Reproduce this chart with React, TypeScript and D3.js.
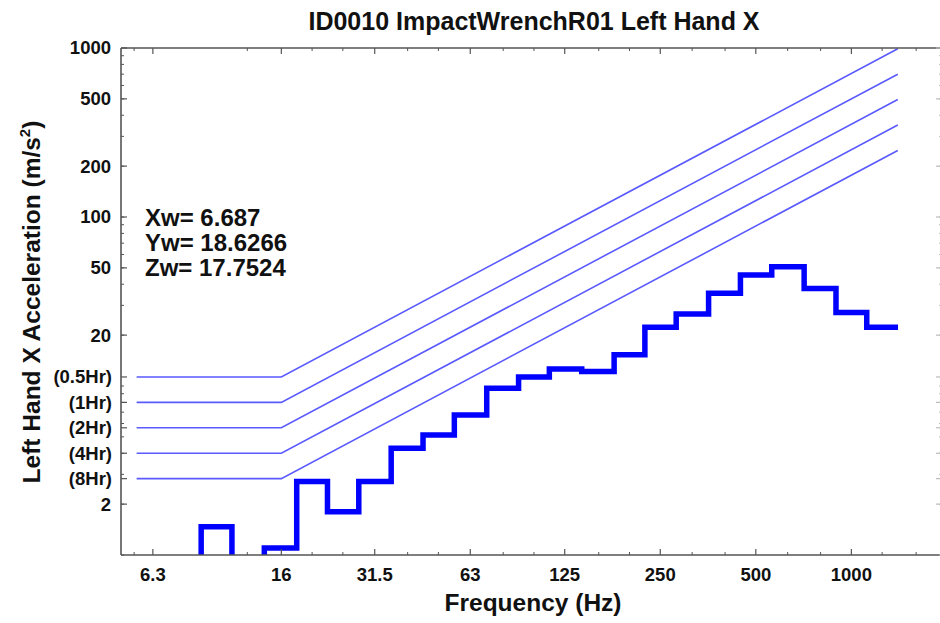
import React from "react";
import * as d3 from "d3";

const title = "ID0010 ImpactWrenchR01 Left Hand X";
const xLabel = "Frequency (Hz)";
const yLabelMain = "Left Hand X Acceleration (m/s";
const xTickValues = [6.3, 16, 31.5, 63, 125, 250, 500, 1000];
const xTickLabels = ["6.3", "16", "31.5", "63", "125", "250", "500", "1000"];
const xMinorTicks = [5.5, 12.5, 20, 25, 40, 50, 80, 100, 160, 200, 315, 400, 630, 800, 1250, 1600];
const yTickValues = [2, 20, 50, 100, 200, 500, 1000];
const yTickLabels = ["2", "20", "50", "100", "200", "500", "1000"];
const limitLabels = ["(0.5Hr)", "(1Hr)", "(2Hr)", "(4Hr)", "(8Hr)"];
const limitValues = [11.31, 8, 5.66, 4, 2.83];
const limitFreqs = [5.6, 16, 1400];
const bandCenters = [8, 10, 12.5, 16, 20, 25, 31.5, 40, 50, 63, 80, 100, 125, 160, 200, 250, 315, 400, 500, 630, 800, 1000, 1250];
const bandValues = [0.6, 1.47, 0.6, 1.1, 2.72, 1.8, 2.72, 4.28, 5.13, 6.73, 9.69, 11.3, 12.6, 12.2, 15.3, 22.3, 26.7, 35.4, 45.4, 50.8, 37.8, 27.2, 22.3];
const weightedLabels = ["Xw= 6.687", "Yw= 18.6266", "Zw= 17.7524"];

const W = 940;
const H = 623;
const left = 121;
const right = 942;
const top = 48;
const bottom = 555;

export default function App() {
  const x = d3.scaleLog().domain([5, 1930]).range([left, right]);
  const y = d3.scaleLog().domain([1, 1000]).range([bottom, top]);

  // band edges
  const edges: number[] = [];
  edges.push(bandCenters[0] * Math.pow(2, -1 / 6));
  for (let i = 0; i < bandCenters.length - 1; i++) {
    edges.push(Math.sqrt(bandCenters[i] * bandCenters[i + 1]));
  }
  edges.push(bandCenters[bandCenters.length - 1] * Math.pow(2, 1 / 6));
  const stepPts: [number, number][] = [];
  bandValues.forEach((v, i) => {
    stepPts.push([edges[i], v]);
    stepPts.push([edges[i + 1], v]);
  });
  const line = d3
    .line<[number, number]>()
    .x((d) => x(d[0]))
    .y((d) => y(d[1]));

  const limitPaths = limitValues.map((v) =>
    line([
      [limitFreqs[0], v],
      [limitFreqs[1], v],
      [limitFreqs[2], (v * limitFreqs[2]) / limitFreqs[1]],
    ])
  );

  const yMinor: number[] = [];
  for (let k = 0; k < 3; k++) {
    for (let m = 1; m < 10; m++) yMinor.push(m * Math.pow(10, k));
  }

  const axisColor = "#555";
  const font = "Liberation Sans, Arial, Helvetica, sans-serif";

  return (
    <svg
      width={W}
      height={H}
      style={{ position: "absolute", left: 0, top: 0, background: "#fff" }}
      fontFamily={font}
    >
      <defs>
        <clipPath id="plot">
          <rect x={left} y={top} width={right - left} height={bottom - top} />
        </clipPath>
      </defs>
      <rect x={0} y={0} width={W} height={H} fill="#fff" />

      {/* limit lines */}
      <g clipPath="url(#plot)">
        {limitPaths.map((p, i) => (
          <path key={i} d={p || ""} fill="none" stroke="#5a5aff" strokeWidth={1.6} />
        ))}
        <path
          d={line(stepPts) || ""}
          fill="none"
          stroke="#0000ff"
          strokeWidth={5.5}
          strokeLinejoin="miter"
        />
      </g>

      {/* axes frame */}
      <line x1={left} x2={left} y1={top} y2={bottom} stroke={axisColor} strokeWidth={1.6} />
      <line x1={left} x2={right} y1={bottom} y2={bottom} stroke={axisColor} strokeWidth={1.6} />
      <line x1={left} x2={right} y1={top} y2={top} stroke={axisColor} strokeWidth={1.6} />
      <line x1={right} x2={right} y1={top} y2={bottom} stroke={axisColor} strokeWidth={1.6} />

      {/* y ticks */}
      {yMinor.map((v, i) => (
        <g key={"ym" + i}>
          <line x1={left} x2={left + 3} y1={y(v)} y2={y(v)} stroke={axisColor} strokeWidth={1} />
          <line x1={right} x2={right - 3} y1={y(v)} y2={y(v)} stroke="#bbb" strokeWidth={1} />
        </g>
      ))}
      {yTickValues.concat(limitValues).map((v, i) => (
        <g key={"yM" + i}>
          <line x1={left} x2={left + 6} y1={y(v)} y2={y(v)} stroke={axisColor} strokeWidth={1.2} />
          <line x1={right} x2={right - 6} y1={y(v)} y2={y(v)} stroke="#bbb" strokeWidth={1.2} />
        </g>
      ))}
      {yTickValues.map((v, i) => (
        <text
          key={"yl" + i}
          x={left - 10}
          y={y(v)}
          dy="0.35em"
          textAnchor="end"
          fontSize={18.5}
          fontWeight="bold"
          fill="#111"
        >
          {yTickLabels[i]}
        </text>
      ))}
      {limitValues.map((v, i) => (
        <text
          key={"ll" + i}
          x={left - 9}
          y={y(v)}
          dy="0.35em"
          textAnchor="end"
          fontSize={18.5}
          fontWeight="bold"
          fill="#111"
        >
          {limitLabels[i]}
        </text>
      ))}

      {/* x ticks */}
      {xMinorTicks.map((v, i) => (
        <g key={"xm" + i}>
          <line x1={x(v)} x2={x(v)} y1={bottom} y2={bottom - 3} stroke={axisColor} strokeWidth={1} />
          <line x1={x(v)} x2={x(v)} y1={top} y2={top + 3} stroke={axisColor} strokeWidth={1} />
        </g>
      ))}
      {xTickValues.map((v, i) => (
        <g key={"xM" + i}>
          <line x1={x(v)} x2={x(v)} y1={bottom} y2={bottom - 6} stroke={axisColor} strokeWidth={1.2} />
          <line x1={x(v)} x2={x(v)} y1={top} y2={top + 6} stroke={axisColor} strokeWidth={1.2} />
          <text
            x={x(v)}
            y={581}
            textAnchor="middle"
            fontSize={18.5}
            fontWeight="bold"
            fill="#111"
          >
            {xTickLabels[i]}
          </text>
        </g>
      ))}

      {/* annotations */}
      {weightedLabels.map((t, i) => (
        <text key={"w" + i} x={145} y={226 + i * 25} fontSize={24} fontWeight="bold" fill="#111">
          {t}
        </text>
      ))}

      {/* titles */}
      <text x={534} y={30} textAnchor="middle" fontSize={25} fontWeight="bold" fill="#111">
        {title}
      </text>
      <text x={533} y={611} textAnchor="middle" fontSize={24.5} fontWeight="bold" fill="#111">
        {xLabel}
      </text>
      <text
        transform={`translate(40, 302) rotate(-90)`}
        textAnchor="middle"
        fontSize={24.5}
        fontWeight="bold"
        fill="#111"
      >
        {yLabelMain}
        <tspan fontSize={15} dy={-10}>2</tspan>
        <tspan dy={10}>)</tspan>
      </text>
    </svg>
  );
}
